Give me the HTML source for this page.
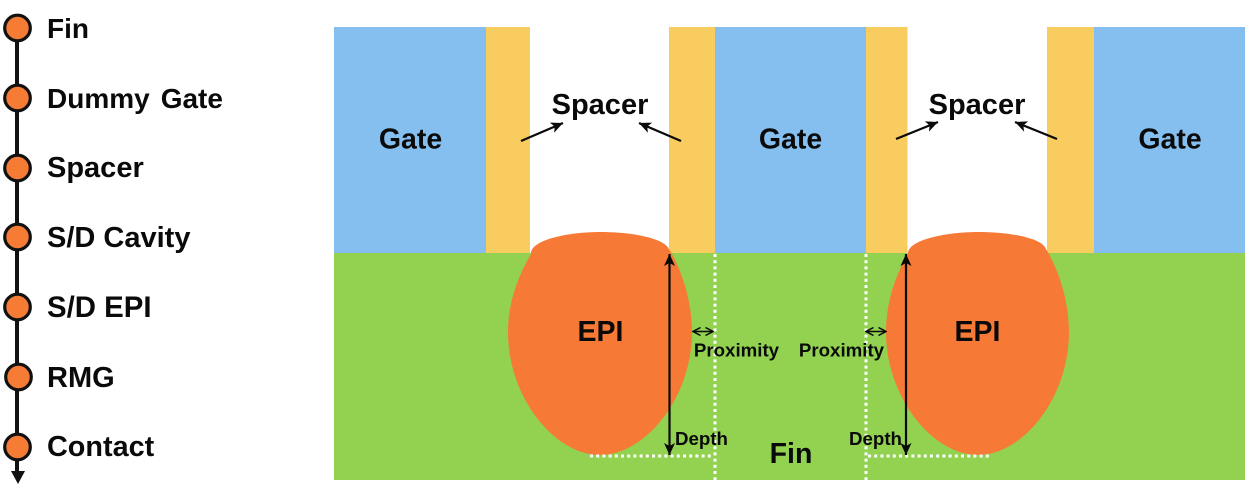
<!DOCTYPE html>
<html>
<head>
<meta charset="utf-8">
<style>
html,body{margin:0;padding:0;background:#fff;width:1256px;height:497px;overflow:hidden}
svg{display:block;filter:blur(.35px)}
text{font-family:"Liberation Sans",sans-serif;font-weight:bold;fill:#0a0a0a}
</style>
</head>
<body>
<svg width="1256" height="497" viewBox="0 0 1256 497" xmlns="http://www.w3.org/2000/svg">
<defs>
<marker id="a" markerUnits="userSpaceOnUse" markerWidth="14" markerHeight="12" refX="12" refY="6" orient="auto-start-reverse"><path d="M0 0.5L12 6L0 11.500L3 6Z" fill="#0a0a0a"/></marker>
<marker id="b" markerUnits="userSpaceOnUse" markerWidth="9" markerHeight="10" refX="8" refY="5" orient="auto-start-reverse"><path d="M0.500 1L8 5L0.500 9" fill="none" stroke="#0a0a0a" stroke-width="1.500"/></marker>
</defs>
<!-- timeline -->
<line x1="17" y1="28" x2="17" y2="472" stroke="#111" stroke-width="4"/>
<path d="M11 471H25L18 484Z" fill="#111"/>
<g fill="#f67c36" stroke="#111" stroke-width="3.2">
<circle cx="17.500" cy="28" r="12.800"/>
<circle cx="17.500" cy="98" r="12.800"/>
<circle cx="17.500" cy="168" r="12.800"/>
<circle cx="17.500" cy="237" r="12.800"/>
<circle cx="17.500" cy="307" r="12.800"/>
<circle cx="18.500" cy="377" r="12.800"/>
<circle cx="17.500" cy="447" r="12.800"/>
</g>
<g font-size="28">
<text x="47" y="38">Fin</text>
<text x="47" y="108">Dummy<tspan dx="11">Gate</tspan></text>
<text x="47" y="177" font-size="29">Spacer</text>
<text x="47" y="247" font-size="29">S/D Cavity</text>
<text x="47" y="317" font-size="29.400">S/D EPI</text>
<text x="47" y="387" font-size="29">RMG</text>
<text x="47" y="456" font-size="28.800">Contact</text>
</g>
<!-- structure -->
<rect x="334" y="253" width="911" height="227" fill="#92d250"/>
<g fill="#85bfef">
<rect x="334" y="27" width="152" height="226"/>
<rect x="715" y="27" width="151" height="226"/>
<rect x="1094" y="27" width="151" height="226"/>
</g>
<g fill="#f9cc5f">
<rect x="486" y="27" width="44" height="226"/>
<rect x="669" y="27" width="46" height="226"/>
<rect x="866" y="27" width="41.500" height="226"/>
<rect x="1047" y="27" width="47" height="226"/>
</g>
<!-- EPI -->
<path d="M531 254C530 240 568 232 600 232C632 232 664 238 669 249C683 272 692 303 692 332C692 398 645 455 600 455C555 455 508 398 508 332C508 303 518 276 531 254Z" fill="#f67a35"/>
<path d="M908 254C907 240 946 232 978 232C1010 232 1042 238 1046 249C1060 272 1069 303 1069 332C1069 398 1023 455 978 455C933 455 886 398 886 332C886 303 895 276 908 254Z" fill="#f67a35"/>
<!-- dotted -->
<g fill="none" stroke="#fff" stroke-width="3" stroke-dasharray="3 3.200">
<line x1="715" y1="254" x2="715" y2="480"/>
<line x1="866" y1="254" x2="866" y2="480"/>
<line x1="590" y1="456" x2="713" y2="456"/>
<line x1="868" y1="456" x2="989" y2="456"/>
</g>
<!-- arrows -->
<g stroke="#0a0a0a" fill="none">
<line x1="521" y1="141" x2="563" y2="123" stroke-width="2.200" marker-end="url(#a)"/>
<line x1="681" y1="141" x2="639" y2="123" stroke-width="2.200" marker-end="url(#a)"/>
<line x1="896" y1="139" x2="938" y2="122" stroke-width="2.200" marker-end="url(#a)"/>
<line x1="1057" y1="139" x2="1015" y2="122" stroke-width="2.200" marker-end="url(#a)"/>
<line x1="669.500" y1="254" x2="669.500" y2="455" stroke-width="2.200" marker-start="url(#a)" marker-end="url(#a)"/>
<line x1="906" y1="254" x2="906" y2="455" stroke-width="2.200" marker-start="url(#a)" marker-end="url(#a)"/>
<line x1="693" y1="331.500" x2="713" y2="331.500" stroke-width="1.500" marker-start="url(#b)" marker-end="url(#b)"/>
<line x1="866" y1="331.500" x2="886" y2="331.500" stroke-width="1.500" marker-start="url(#b)" marker-end="url(#b)"/>
</g>
<!-- labels -->
<g font-size="28.500" text-anchor="middle">
<text x="410.500" y="148.500">Gate</text>
<text x="790.500" y="148.500">Gate</text>
<text x="1170" y="148.500">Gate</text>
<text x="600" y="114" font-size="29">Spacer</text>
<text x="977" y="114" font-size="29">Spacer</text>
<text x="600.500" y="341">EPI</text>
<text x="977.500" y="341">EPI</text>
<text x="791" y="463">Fin</text>
</g>
<g font-size="18.700" text-anchor="middle">
<text x="736.500" y="356.500">Proximity</text>
<text x="841.500" y="356.500">Proximity</text>
<text x="701.500" y="445">Depth</text>
<text x="875.500" y="445">Depth</text>
</g>
</svg>
</body>
</html>
